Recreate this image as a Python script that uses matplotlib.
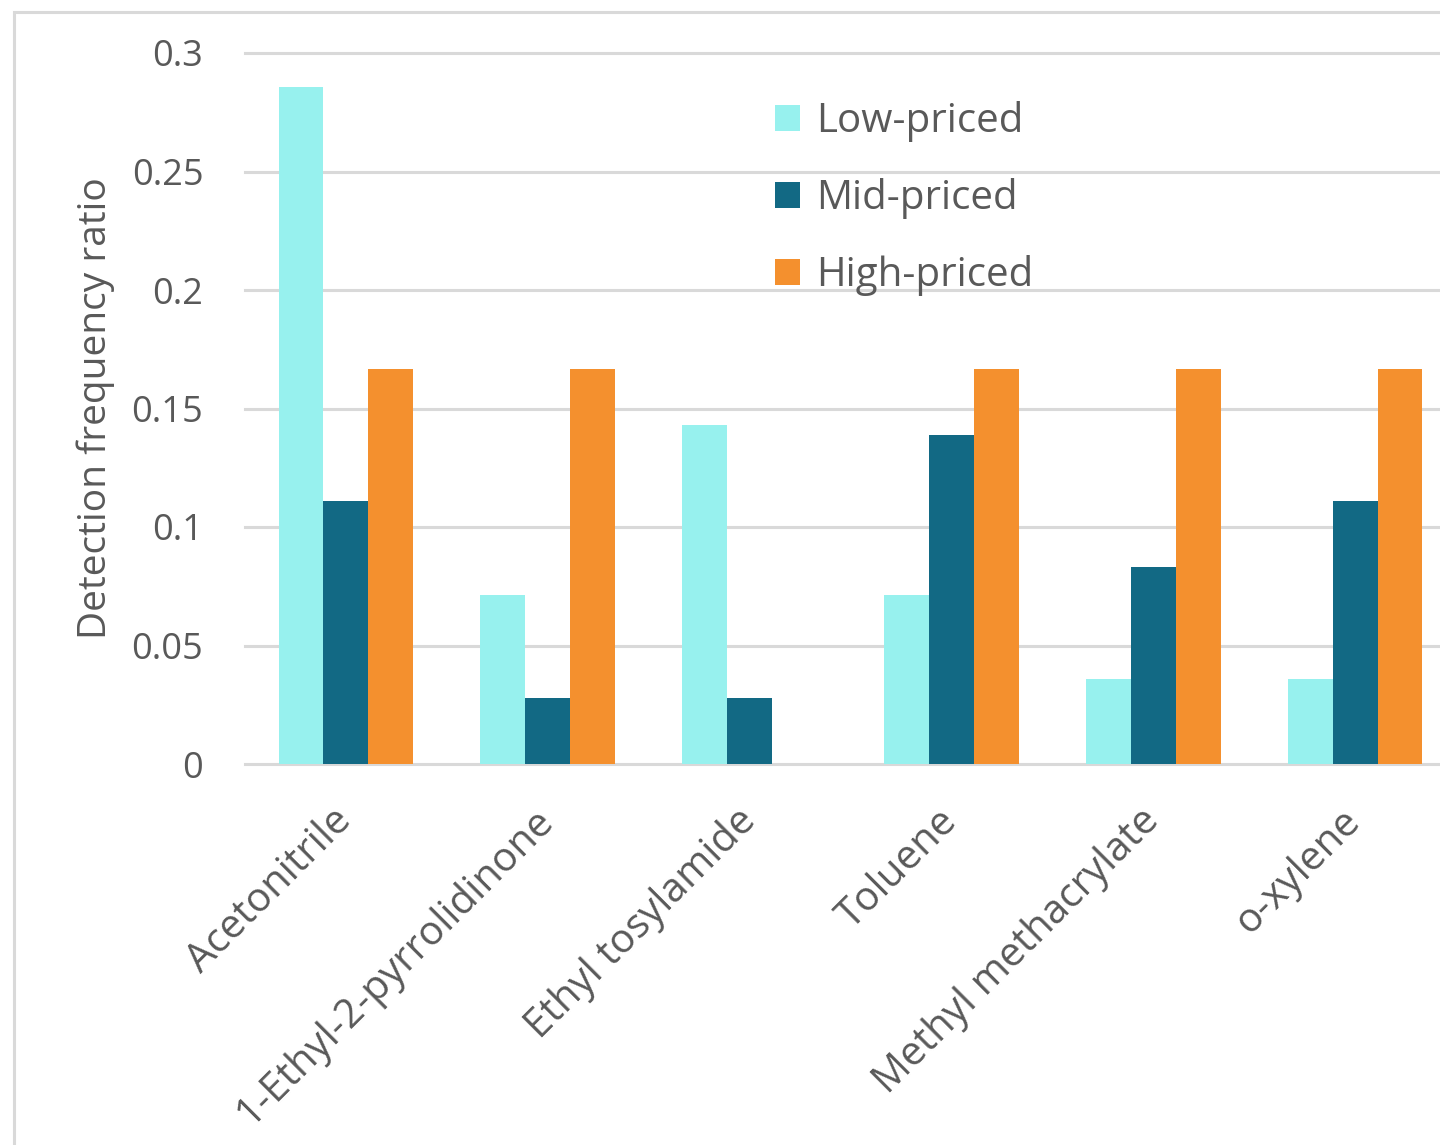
import matplotlib
matplotlib.use("Agg")
import matplotlib.pyplot as plt
from matplotlib.patches import Rectangle, Patch
import numpy as np

plt.rcParams['font.family'] = ['Open Sans', 'DejaVu Sans']

categories = ["Acetonitrile", "1-Ethyl-2-pyrrolidinone", "Ethyl tosylamide",
              "Toluene", "Methyl methacrylate", "o-xylene"]
series_names = ["Low-priced", "Mid-priced", "High-priced"]
low_priced = [0.2857, 0.0714, 0.1429, 0.0714, 0.0357, 0.0357]
mid_priced = [0.1111, 0.0278, 0.0278, 0.1389, 0.0833, 0.1111]
high_priced = [0.1667, 0.1667, 0.0, 0.1667, 0.1667, 0.1667]
y_ticks = [0, 0.05, 0.1, 0.15, 0.2, 0.25, 0.3]
y_tick_labels = ["0", "0.05", "0.1", "0.15", "0.2", "0.25", "0.3"]

colors = ["#97F1EE", "#126984", "#F4902E"]
text_color = "#595959"
grid_color = "#D9D9D9"

W, H = 1440, 1145
fig = plt.figure(figsize=(W / 100, H / 100), dpi=100)

# chart-area border (continues past the right and bottom edges)
fig.patches.append(Rectangle((13.5 / W, -0.1), 1.2, (H - 12.5) / H + 0.1,
                             transform=fig.transFigure, fill=False,
                             edgecolor=grid_color, linewidth=2.2, zorder=0))

left, right = 245 / W, 1456 / W
bottom, top = (H - 764) / H, (H - 53) / H
ax = fig.add_axes([left, bottom, right - left, top - bottom])

x = np.arange(len(categories))
bw = 1 / 4.5
for i, (vals, c, name) in enumerate(zip([low_priced, mid_priced, high_priced],
                                        colors, series_names)):
    ax.bar(x + (i - 1) * bw, vals, width=bw, color=c, label=name, zorder=3,
           linewidth=0)

ax.set_xlim(-0.5, len(categories) - 0.5)
ax.set_ylim(0, 0.3)

for yv in y_ticks:
    ax.axhline(yv, color=grid_color, linewidth=2.2, zorder=1, clip_on=False)

for s in ax.spines.values():
    s.set_visible(False)

ax.set_yticks(y_ticks)
ax.set_yticklabels(y_tick_labels)
ax.tick_params(axis='y', length=0, pad=30, labelsize=26, labelcolor=text_color)
ax.set_xticks(x)
ax.set_xticklabels(categories, rotation=45, ha='right', va='center',
                   rotation_mode='anchor')
ax.tick_params(axis='x', length=0, pad=37, labelsize=29, labelcolor=text_color)

ax.set_ylabel("Detection frequency ratio", fontsize=28, color=text_color,
              labelpad=12)

handles = [Patch(facecolor=c, edgecolor='none') for c in colors]
leg = ax.legend(handles, series_names, loc='upper left',
                bbox_to_anchor=((775 - 245) / (1456 - 245), 1 - (101 - 53) / 711),
                frameon=False, fontsize=29, labelcolor=text_color,
                handlelength=0.62, handleheight=0.62, handletextpad=0.4,
                labelspacing=0.9, borderaxespad=0, borderpad=0)

fig.savefig("out.png", dpi=100)
